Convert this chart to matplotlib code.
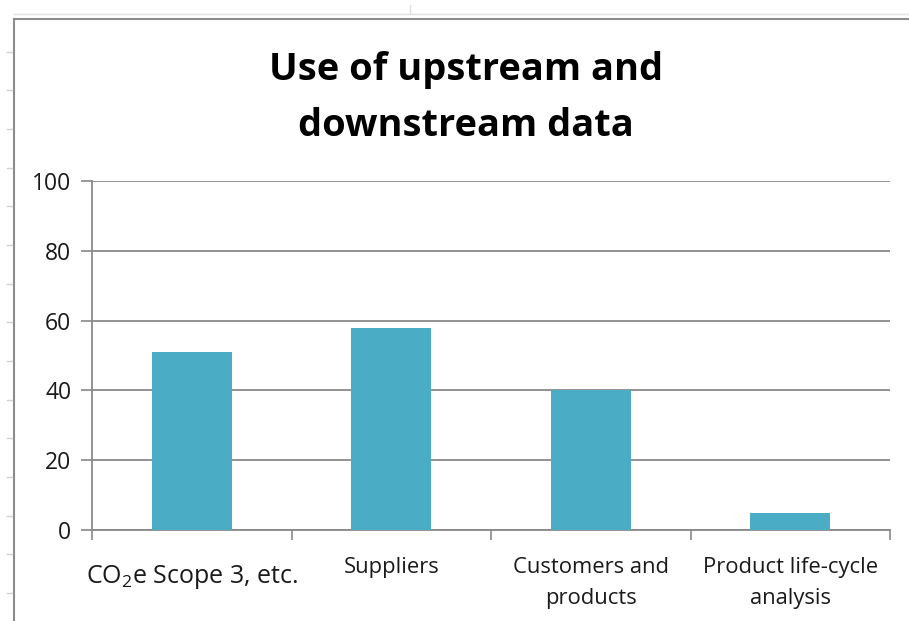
import matplotlib
matplotlib.use("Agg")
import matplotlib.pyplot as plt
from matplotlib.lines import Line2D

plt.rcParams['font.family'] = ['Open Sans', 'DejaVu Sans']
plt.rcParams['mathtext.fontset'] = 'custom'
plt.rcParams['mathtext.rm'] = 'Open Sans'
plt.rcParams['mathtext.it'] = 'Open Sans:italic'
plt.rcParams['mathtext.bf'] = 'Open Sans:bold'

categories = ["CO$_2$e Scope 3, etc.", "Suppliers", "Customers and\nproducts",
              "Product life-cycle\nanalysis"]
values = [51, 58, 40, 5]
yticks = [0, 20, 40, 60, 80, 100]
title = "Use of upstream and\ndownstream data"

bar_color = "#4BACC6"
grid_color = "#898989"
text_color = "#1a1a1a"

fig = plt.figure(figsize=(9.09, 6.21), dpi=100)
ax = fig.add_axes([92 / 909, 1 - 530 / 621, 798 / 909, 349 / 621])

x = list(range(len(categories)))
ax.bar(x, values, width=0.4, color=bar_color, zorder=3)

ax.set_xlim(-0.5, len(categories) - 0.5)
ax.set_ylim(0, 100)
ax.set_yticks(yticks)
ax.yaxis.grid(True, color=grid_color, linewidth=1.3, zorder=0)
ax.tick_params(axis='y', length=8, width=1.2, color=grid_color,
               labelsize=16.5, pad=7, labelcolor=text_color)

# category ticks sit at the boundaries between groups
ax.set_xticks([i - 0.5 for i in range(len(categories) + 1)])
ax.set_xticklabels([])
ax.tick_params(axis='x', length=7, width=1.2, color=grid_color)

for i, lab in enumerate(categories):
    if i == 0:
        ax.text(i, -13.4, lab, ha='center', va='center', fontsize=18,
                color=text_color)
    else:
        ax.text(i, -7.8, lab, ha='center', va='top', fontsize=15.8,
                color=text_color, linespacing=1.6)

for side in ('top', 'right'):
    ax.spines[side].set_visible(False)
for side in ('left', 'bottom'):
    ax.spines[side].set_color(grid_color)
    ax.spines[side].set_linewidth(1.3)

fig.text(466 / 909, 1 - 98 / 621, title, ha='center', va='center',
         fontsize=27.4, fontweight='bold', linespacing=1.63, color="#000000")

# chart frame and surrounding sheet gridlines
fig.add_artist(Line2D([14 / 909, 14 / 909], [0, 1 - 19 / 621],
                      color="#8c8c8c", linewidth=1.5, transform=fig.transFigure))
fig.add_artist(Line2D([14 / 909, 1], [1 - 19 / 621, 1 - 19 / 621],
                      color="#8c8c8c", linewidth=1.5, transform=fig.transFigure))
fig.add_artist(Line2D([14 / 909, 1], [1 - 14 / 621, 1 - 14 / 621],
                      color="#e0e0e0", linewidth=1.0, transform=fig.transFigure))
fig.add_artist(Line2D([410 / 909, 410 / 909], [1 - 14 / 621, 1 - 5 / 621],
                      color="#e0e0e0", linewidth=1.0, transform=fig.transFigure))
for yy in [52, 90, 129, 168, 206, 245, 284, 322, 361, 400, 438, 477, 516, 554, 593]:
    fig.add_artist(Line2D([7 / 909, 12 / 909], [1 - yy / 621, 1 - yy / 621],
                          color="#d0d0d0", linewidth=1.0, transform=fig.transFigure))

fig.savefig("out.png", dpi=100)
